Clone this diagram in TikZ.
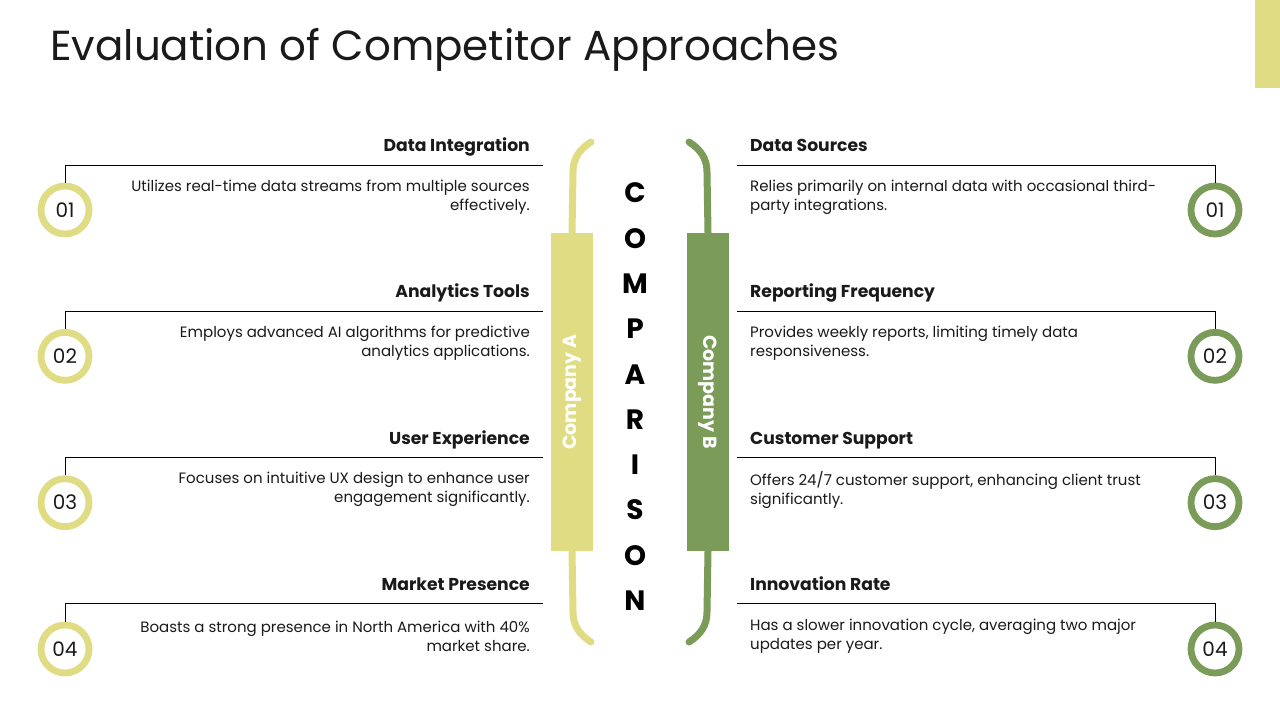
\documentclass[tikz,border=0pt]{standalone}
\usepackage{fontspec}
\setmainfont{Poppins}
\definecolor{ylw}{HTML}{DFDC83}
\definecolor{grn}{HTML}{7A9C58}
\definecolor{txt}{HTML}{1A1A1A}
\begin{document}
\begin{tikzpicture}[x=1pt,y=-1pt,
  head/.style={font=\fontsize{17.2}{20}\selectfont\bfseries, text=txt, inner sep=0},
  desc/.style={font=\fontsize{15}{19}\selectfont, text=txt, inner sep=0},
  ringbase/.style={circle, line width=6.8, minimum size=48, inner sep=0, fill=white, font=\fontsize{20}{20}\selectfont, text=txt},
  ringA/.style={ringbase, draw=ylw},
  ringB/.style={ringbase, draw=grn},
  rule/.style={draw=black, line width=1},
  bendline/.style={line width=7, line cap=round},
  letter/.style={font=\fontsize{28}{28}\selectfont\bfseries, text=black, inner sep=0},
  company/.style={text=white, font=\fontsize{19}{19}\selectfont\bfseries, inner sep=0}]
\useasboundingbox (0,0) rectangle (1280,720);
\fill[white] (0,0) rectangle (1280,720);

% title and tab
\node[anchor=base west, font=\fontsize{42}{42}\selectfont, inner sep=0, text=txt] (title) at (50,60) {Evaluation of Competitor Approaches};
\fill[ylw] (1255,0) rectangle (1280,88);

% central bars
\node[fill=ylw, minimum width=42, minimum height=318, inner sep=0] (A) at (572,392) {};
\node[company, rotate=90] (At) at (A.center) {Company A};
\node[fill=grn, minimum width=42, minimum height=318, inner sep=0] (B) at (708,392) {};
\node[company, rotate=-90] (Bt) at (B.center) {Company B};

\draw[bendline, ylw] (A.north) -- (573,172) .. controls (573,158) and (580,149) .. (591,142);
\draw[bendline, ylw] (A.south) -- (573,612) .. controls (573,626) and (580,635) .. (591,642);
\draw[bendline, grn] (B.north) -- (707,172) .. controls (707,158) and (700,149) .. (689,142);
\draw[bendline, grn] (B.south) -- (707,612) .. controls (707,626) and (700,635) .. (689,642);

% COMPARISON
\foreach \l [count=\k] in {C,O,M,P,A,R,I,S,O,N}{
  \node[letter] (let\k) at (635,{193+45.3*(\k-1)}) {\l};
}

% left column
\foreach \i/\hd/\la/\lb in {
  0/{Data Integration}/{Utilizes real-time data streams from multiple sources}/{effectively.},
  1/{Analytics Tools}/{Employs advanced AI algorithms for predictive}/{analytics applications.},
  2/{User Experience}/{Focuses on intuitive UX design to enhance user}/{engagement significantly.},
  3/{Market Presence}/{Boasts a strong presence in North America with 40\%}/{market share.}}{
  \pgfmathsetmacro\dy{146.33*\i}
  \node[head, anchor=base east] (LH\i) at (530,{151.5+\dy}) {\hd};
  \node[desc, anchor=east, align=right] (LD\i) at (530,{197+\dy}) {\la\\\lb};
  \node[ringA] (LC\i) at (65,{210+\dy}) {0\the\numexpr\i+1\relax};
  \coordinate (LE\i) at (543,{165+\dy});
  \draw[rule] (LE\i) -| (LC\i.north);
}

% right column
\foreach \i/\hd/\la/\lb in {
  0/{Data Sources}/{Relies primarily on internal data with occasional third-}/{party integrations.},
  1/{Reporting Frequency}/{Provides weekly reports, limiting timely data}/{responsiveness.},
  2/{Customer Support}/{Offers 24/7 customer support, enhancing client trust}/{significantly.},
  3/{Innovation Rate}/{Has a slower innovation cycle, averaging two major}/{updates per year.}}{
  \pgfmathsetmacro\dy{146.33*\i}
  \node[head, anchor=base west] (RH\i) at (750,{151.5+\dy}) {\hd};
  \node[desc, anchor=west, align=left] (RD\i) at (750,{197+\dy}) {\la\\\lb};
  \node[ringB] (RC\i) at (1215,{210+\dy}) {0\the\numexpr\i+1\relax};
  \coordinate (RE\i) at (737,{165+\dy});
  \draw[rule] (RE\i) -| (RC\i.north);
}
\end{tikzpicture}
\end{document}
